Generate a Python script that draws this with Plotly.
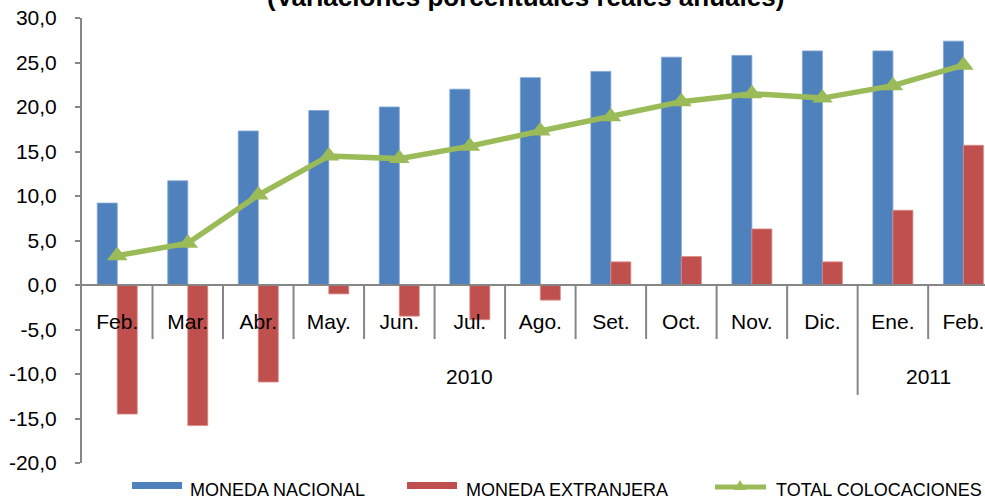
import plotly.graph_objects as go

months = ["Feb.", "Mar.", "Abr.", "May.", "Jun.", "Jul.", "Ago.", "Set.", "Oct.", "Nov.", "Dic.", "Ene.", "Feb."]
years = ["2010"] * 11 + ["2011"] * 2
moneda_nacional = [9.2, 11.7, 17.3, 19.6, 20.0, 22.0, 23.3, 24.0, 25.6, 25.8, 26.3, 26.3, 27.4]
moneda_extranjera = [-14.5, -15.8, -10.9, -1.0, -3.5, -3.9, -1.7, 2.6, 3.2, 6.3, 2.6, 8.4, 15.7]
total_colocaciones = [3.3, 4.7, 10.1, 14.5, 14.2, 15.6, 17.3, 18.9, 20.6, 21.5, 21.0, 22.4, 24.7]
y_ticks = [-20, -15, -10, -5, 0, 5, 10, 15, 20, 25, 30]
series_names = ["MONEDA NACIONAL", "MONEDA EXTRANJERA", "TOTAL COLOCACIONES"]
title_text = "(Variaciones porcentuales reales anuales)"

BLUE = "#4F81BD"
RED = "#C0504D"
GREEN = "#9BBB59"
GRAY = "#868686"
FONT = "Liberation Sans, Arial, sans-serif"

W, H = 985, 499
ML, MR, MT, MB = 82, 0, 18, 36
PW = W - ML - MR
PH = H - MT - MB

def px_x(p):
    return (p - ML) / PW

def px_y(p):
    return (H - MB - p) / PH

idx = list(range(len(months)))

fig = go.Figure()
fig.add_trace(go.Bar(x=idx, y=moneda_nacional, name=series_names[0],
                     marker=dict(color=BLUE, line=dict(color="#7FA3D3", width=0.8)),
                     showlegend=False))
fig.add_trace(go.Bar(x=idx, y=moneda_extranjera, name=series_names[1],
                     marker=dict(color=RED, line=dict(color="#D98A88", width=0.8)),
                     showlegend=False))
fig.add_trace(go.Scatter(x=idx, y=total_colocaciones, name=series_names[2], mode="lines+markers",
                         line=dict(color=GREEN, width=5.5),
                         marker=dict(symbol="triangle-up", size=18, color=GREEN),
                         showlegend=False))

shapes = []
# month dividers
for i in range(len(months) - 1):
    long_div = years[i] != years[i + 1]
    shapes.append(dict(type="line", xref="x", yref="y", x0=i + 0.5, x1=i + 0.5,
                       ysizemode="pixel", yanchor=0, y0=0, y1=-110 if long_div else -54,
                       line=dict(color=GRAY, width=2)))

annotations = []
# year labels
for yr in dict.fromkeys(years):
    pos = [i for i, y in enumerate(years) if y == yr]
    annotations.append(dict(x=sum(pos) / len(pos), y=0, xref="x", yref="y", yshift=-91,
                            text=yr, showarrow=False, font=dict(size=21, color="black", family=FONT)))

# title (partially cut at top)
annotations.append(dict(x=px_x(525), y=px_y(-3), xref="paper", yref="paper", text="<b>%s</b>" % title_text,
                        showarrow=False, xanchor="center", yanchor="middle",
                        font=dict(size=26, color="black", family=FONT)))

# custom legend
shapes.append(dict(type="rect", xref="paper", yref="paper", x0=px_x(132), x1=px_x(182),
                   y0=px_y(489), y1=px_y(482), fillcolor=BLUE, line=dict(width=0)))
shapes.append(dict(type="rect", xref="paper", yref="paper", x0=px_x(407), x1=px_x(457),
                   y0=px_y(489), y1=px_y(482), fillcolor=RED, line=dict(width=0)))
shapes.append(dict(type="line", xref="paper", yref="paper", x0=px_x(715), x1=px_x(766),
                   y0=px_y(487), y1=px_y(487), line=dict(color=GREEN, width=5)))
tx, ty = 740, 487
shapes.append(dict(type="path", xref="paper", yref="paper",
                   path="M %f,%f L %f,%f L %f,%f Z" % (px_x(tx - 6), px_y(ty + 3), px_x(tx + 6), px_y(ty + 3),
                                                        px_x(tx), px_y(ty - 7)),
                   fillcolor=GREEN, line=dict(width=0)))
for name, xl in zip(series_names, [188, 464, 774]):
    annotations.append(dict(x=px_x(xl), y=px_y(490), xref="paper", yref="paper", text=name,
                            showarrow=False, xanchor="left", yanchor="middle",
                            font=dict(size=18, color="black", family=FONT)))

fig.update_layout(
    width=W, height=H,
    margin=dict(l=ML, r=MR, t=MT, b=MB, pad=0, autoexpand=False),
    paper_bgcolor="white", plot_bgcolor="white",
    barmode="group", bargap=0.433, bargroupgap=0,
    font=dict(family=FONT, color="black"),
    shapes=shapes, annotations=annotations,
    xaxis=dict(range=[-0.5, 12.306], tickvals=idx, ticktext=months, anchor="free", position=0.4,
               showline=True, linecolor=GRAY, linewidth=2, ticks="", showgrid=False, zeroline=False,
               tickfont=dict(size=21, color="black"), ticklabelstandoff=18, automargin=False),
    yaxis=dict(range=[-20, 30], tickvals=y_ticks,
               ticktext=[("%.1f" % v).replace(".", ",") for v in y_ticks],
               showgrid=False, zeroline=False, automargin=False,
               showline=True, linecolor=GRAY, linewidth=2, ticks="outside", ticklen=5, tickcolor=GRAY,
               tickwidth=2, tickfont=dict(size=21, color="black"), ticklabelstandoff=14),
)

fig.write_html("out.html", config={"displayModeBar": False},
               post_script="document.body.style.margin='0';document.body.style.overflow='hidden';")
